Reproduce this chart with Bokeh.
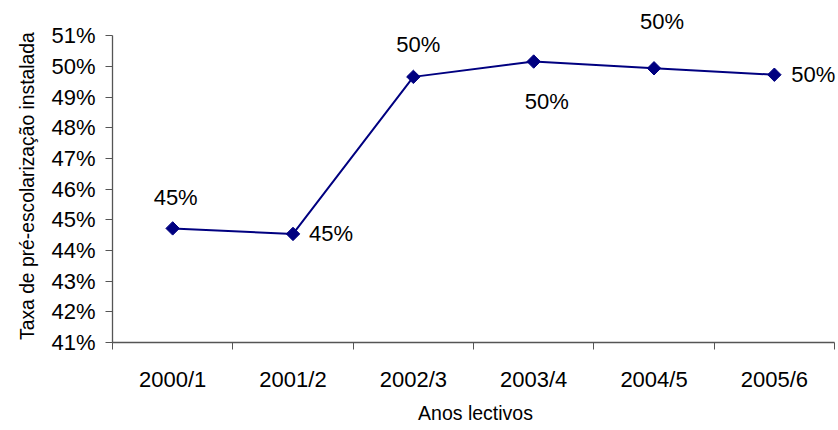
import numpy as np
from bokeh.plotting import figure
from bokeh.layouts import row
from bokeh.models import ColumnDataSource, Range1d, FixedTicker, PrintfTickFormatter
from bokeh.core.properties import value
from bokeh.embed import file_html
from bokeh.resources import INLINE

# ---- data ----
years = ["2000/1", "2001/2", "2002/3", "2003/4", "2004/5", "2005/6"]
rates = [44.72, 44.54, 49.66, 50.16, 49.94, 49.73]
y_ticks = [41, 42, 43, 44, 45, 46, 47, 48, 49, 50, 51]
y_title = "Taxa de pré-escolarização instalada"
x_title = "Anos lectivos"

# label placement (screen px, +y down) and alignment
label_dx = [3, 16, 5, 13, 8, 17]
label_dy = [-31, 0, -32, 40, -47, 0]
label_align = ["center", "left", "center", "center", "center", "left"]

FONT = "Liberation Sans"
NAVY = "#000080"
AXIS = "#555555"

W, H = 838, 430
BOTTOM = 88
LEFT_W = 44

xs = [i + 0.5 for i in range(len(years))]
labels = [f"{round(v):.0f}%" for v in rates]

src = ColumnDataSource(dict(x=xs, y=rates, lab=labels, dx=label_dx,
                            dy=label_dy, al=label_align))

yr = Range1d(41, 52.15)

# narrow strip holding the vertical axis title (frame aligned with main plot)
t = figure(width=LEFT_W, height=H, output_backend="svg", toolbar_location=None,
           x_range=Range1d(0, LEFT_W), y_range=yr,
           x_axis_location=None, y_axis_location=None,
           min_border_left=0, min_border_right=0, min_border_top=0,
           min_border_bottom=BOTTOM)
t.grid.visible = False
t.outline_line_color = None
t.text(x=[27], y=[(y_ticks[0] + y_ticks[-1]) / 2], text=[y_title],
       y_offset=-3, angle=np.pi / 2, text_align="center",
       text_baseline="middle", text_font=value(FONT),
       text_font_size="19.3px", text_color="black")

p = figure(width=W - LEFT_W, height=H, output_backend="svg",
           toolbar_location=None, x_range=Range1d(0, 6.033), y_range=yr,
           min_border_left=112 - LEFT_W, min_border_right=0, min_border_top=0,
           min_border_bottom=BOTTOM)
p.outline_line_color = None
p.xgrid.visible = False
p.ygrid.visible = False
p.background_fill_color = "white"
p.border_fill_color = "white"

p.line("x", "y", source=src, line_color=NAVY, line_width=2)
p.scatter("x", "y", source=src, marker="square", angle=np.pi / 4, size=9.5,
          fill_color=NAVY, line_color=NAVY)
p.text("x", "y", text="lab", source=src, x_offset="dx", y_offset="dy",
       text_align="al", text_baseline="middle", text_font=value(FONT),
       text_font_size="22px", text_color="black")

# x axis
xa = p.xaxis[0]
xa.ticker = FixedTicker(ticks=xs, minor_ticks=list(range(len(years) + 1)))
xa.major_label_overrides = {x: y for x, y in zip(xs, years)}
xa.bounds = (0, len(years))
xa.major_tick_out = 0
xa.major_tick_in = 0
xa.minor_tick_out = 7
xa.minor_tick_in = 0
xa.major_label_standoff = 17
xa.axis_label = x_title
xa.axis_label_standoff = 7
xa.axis_label_text_font_size = "19.5px"

# y axis
ya = p.yaxis[0]
ya.ticker = FixedTicker(ticks=y_ticks, minor_ticks=[])
ya.formatter = PrintfTickFormatter(format="%d%%")
ya.bounds = (y_ticks[0], y_ticks[-1])
ya.major_tick_out = 7
ya.major_tick_in = 0
ya.minor_tick_out = 0
ya.minor_tick_in = 0
ya.major_label_standoff = 10

for ax in (xa, ya):
    ax.axis_line_color = AXIS
    ax.major_tick_line_color = AXIS
    ax.minor_tick_line_color = AXIS
    ax.axis_line_width = 1.3
    ax.major_label_text_font = FONT
    ax.major_label_text_font_size = "22px"
    ax.major_label_text_color = "black"
    ax.axis_label_text_font = FONT
    ax.axis_label_text_font_style = "normal"
    ax.axis_label_text_color = "black"

layout = row(t, p, spacing=0)
open("out.html", "w").write(file_html(layout, INLINE))
